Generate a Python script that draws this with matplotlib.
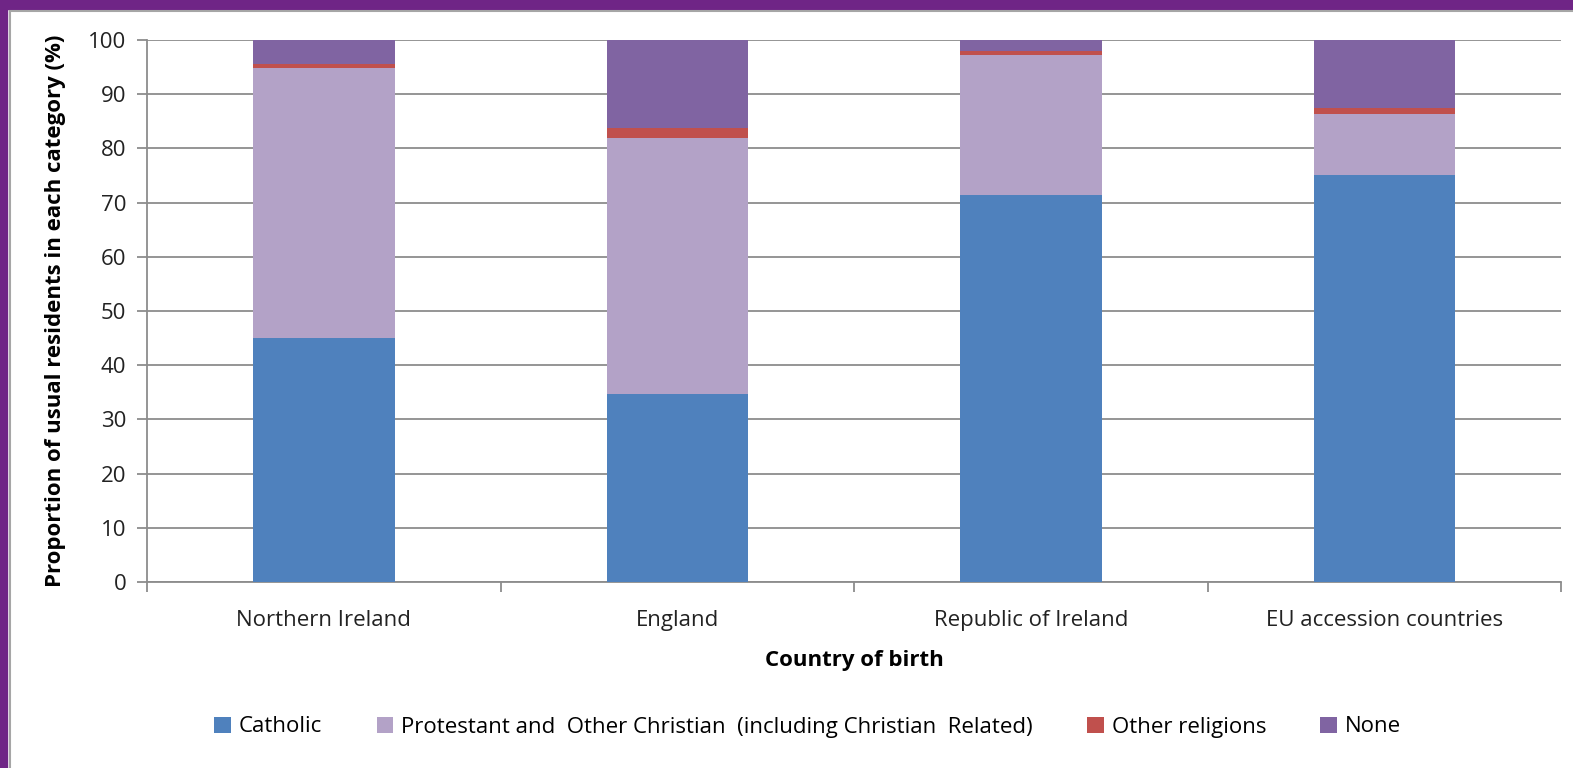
import numpy as np
import matplotlib
matplotlib.use("Agg")
import matplotlib.pyplot as plt
from matplotlib.patches import Rectangle

plt.rcParams['font.family'] = ['Open Sans', 'DejaVu Sans']

countries = ['Northern Ireland', 'England', 'Republic of Ireland', 'EU accession countries']
catholic = [45.0, 34.7, 71.4, 75.1]
protestant = [49.8, 47.2, 25.8, 11.2]
other = [0.8, 1.8, 0.8, 1.1]
none = [4.4, 16.3, 2.0, 12.6]

labels = ['Catholic', 'Protestant and  Other Christian  (including Christian  Related)',
          'Other religions', 'None']
colors = ['#4F81BD', '#B3A2C7', '#C0504D', '#8064A2']

fs = 16

fig = plt.figure(figsize=(15.73, 7.68), dpi=100)
ax = fig.add_axes([0.0935, 0.2422, 0.8989, 0.7057])

x = np.arange(len(countries))
bottom = np.zeros(len(countries))
for vals, lab, col in zip([catholic, protestant, other, none], labels, colors):
    ax.bar(x, vals, 0.4, bottom=bottom, color=col, label=lab, zorder=3)
    bottom += np.array(vals)

ax.set_xlim(-0.5, 3.5)
ax.set_ylim(0, 100)
ax.set_yticks(np.arange(0, 101, 10))
ax.yaxis.grid(True, color='#8c8c8c', linewidth=1.3, zorder=0)
ax.set_xticks(x)
ax.set_xticklabels(countries, fontsize=fs, color='#222222')
ax.set_xticks(np.arange(-0.5, 3.6, 1), minor=True)
ax.tick_params(axis='x', which='major', length=0, pad=20)
ax.tick_params(axis='x', which='minor', length=7, width=1.3, color='#8c8c8c')
ax.tick_params(axis='y', length=7, width=1.3, color='#8c8c8c', labelsize=fs,
               labelcolor='#222222', pad=8)

for s in ['top', 'right']:
    ax.spines[s].set_visible(False)
for s in ['left', 'bottom']:
    ax.spines[s].set_color('#8c8c8c')
    ax.spines[s].set_linewidth(1.3)

ax.set_ylabel('Proportion of usual residents in each category (%)', fontsize=fs,
              fontweight='bold', labelpad=16)
ax.set_xlabel('Country of birth', fontsize=fs, fontweight='bold', labelpad=14)

fig.legend(loc='center', bbox_to_anchor=(0.5135, 1 - 727 / 768), ncol=4, frameon=False,
           fontsize=fs, handlelength=0.75, handleheight=0.75, handletextpad=0.35,
           columnspacing=2.45)

# purple frame and inner chart border
fig.patches.append(Rectangle((0, 1 - 9 / 768), 1, 9 / 768, transform=fig.transFigure,
                             color='#6F2586', zorder=0))
fig.patches.append(Rectangle((0, 0), 7 / 1573, 1, transform=fig.transFigure,
                             color='#6F2586', zorder=0))
fig.patches.append(Rectangle((10 / 1573, -0.05), 1.1, 1 - 11 / 768 + 0.05,
                             transform=fig.transFigure, fill=False,
                             edgecolor='#a6a6a6', linewidth=1.5, zorder=0))

fig.savefig('out.png', dpi=100)
